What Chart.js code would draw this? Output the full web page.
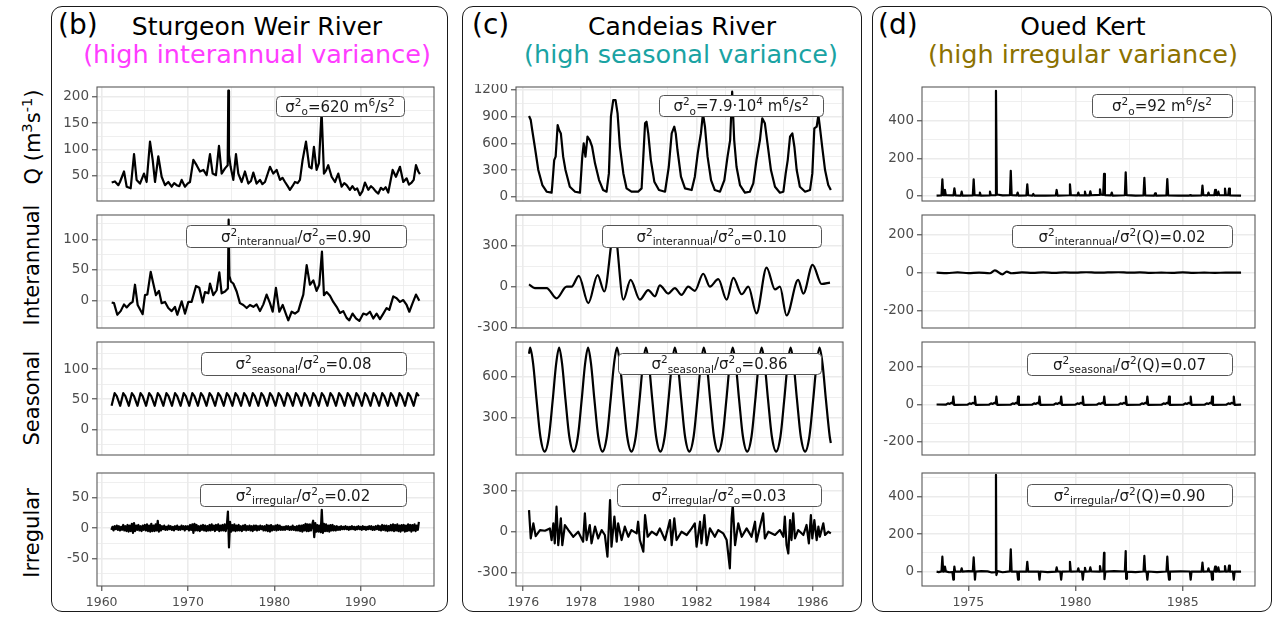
<!DOCTYPE html>
<html>
<head>
<meta charset="utf-8">
<script src="https://cdn.jsdelivr.net/npm/chart.js@4.4.0/dist/chart.umd.min.js"></script>
<style>
  body { margin: 0; width: 1276px; height: 619px; background: #fff; position: relative; overflow: hidden;
         font-family: "DejaVu Sans", sans-serif; color: #000; }
  .frame { position: absolute; border: 1.6px solid #1a1a1a; border-radius: 11px; box-sizing: border-box; }
  .t { position: absolute; white-space: nowrap; line-height: 1; }
  .tag { font-size: 28px; }
  .title { font-size: 25px; transform: translateX(-50%); }
  .sub { font-size: 25.5px; transform: translateX(-50%); }
  .row { font-size: 21px; transform: translate(-50%, -50%) rotate(-90deg); }
  .row sup { font-size: 0.7em; }
  canvas { position: absolute; }
</style>
</head>
<body>
<div class="frame" style="left:51px;top:6px;width:397px;height:606px"></div>
<div class="frame" style="left:462px;top:6px;width:400px;height:606px"></div>
<div class="frame" style="left:872px;top:6px;width:400px;height:606px"></div>

<div class="t tag" style="left:58px;top:11px">(b)</div>
<div class="t title" style="left:257px;top:14px">Sturgeon Weir River</div>
<div class="t sub" style="left:257px;top:42px;color:#ff3dff">(high interannual variance)</div>

<div class="t tag" style="left:472px;top:11px">(c)</div>
<div class="t title" style="left:682px;top:14px">Candeias River</div>
<div class="t sub" style="left:681px;top:42px;color:#1aa3a3">(high seasonal variance)</div>

<div class="t tag" style="left:878px;top:11px">(d)</div>
<div class="t title" style="left:1083px;top:14px">Oued Kert</div>
<div class="t sub" style="left:1083px;top:42px;color:#8c7100">(high irregular variance)</div>

<div class="t row" style="left:32px;top:137px">Q (m<sup>3</sup>s<sup>-1</sup>)</div>
<div class="t row" style="left:32px;top:265px">Interannual</div>
<div class="t row" style="left:32px;top:398px">Seasonal</div>
<div class="t row" style="left:32px;top:533px">Irregular</div>

<script>
// ---- Sturgeon Weir River: [decimal year, value] ----
const sturgeonQ = [[1961.16,37],[1961.54,39],[1961.93,32],[1962.12,38],[1962.59,58],[1962.9,29],[1963.36,26],[1963.75,91],[1964.05,42],[1964.44,35],[1964.9,54],[1965.21,38],[1965.6,115],[1965.91,80],[1966.18,38],[1966.56,87],[1966.95,48],[1967.34,32],[1967.72,38],[1968.11,29],[1968.4,36],[1968.69,32],[1969.0,30],[1969.27,42],[1969.65,29],[1969.95,35],[1970.23,38],[1970.62,80],[1971.0,70],[1971.39,58],[1971.78,61],[1972.16,51],[1972.55,91],[1972.86,54],[1973.24,51],[1973.59,107],[1973.9,54],[1974.29,64],[1974.6,70],[1974.67,212],[1974.75,90],[1974.94,67],[1975.25,42],[1975.56,91],[1975.83,54],[1976.22,38],[1976.6,58],[1976.99,35],[1977.3,40],[1977.57,56],[1977.95,35],[1978.34,42],[1978.62,34],[1978.92,38],[1979.5,67],[1979.88,54],[1980.27,61],[1980.66,42],[1980.95,46],[1981.24,38],[1981.55,30],[1981.81,23],[1982.1,30],[1982.39,38],[1982.7,36],[1982.97,42],[1983.28,80],[1983.67,115],[1984.05,67],[1984.32,64],[1984.59,105],[1984.9,61],[1985.17,74],[1985.48,172],[1985.75,54],[1986.0,60],[1986.25,70],[1986.64,48],[1987.03,38],[1987.41,54],[1987.8,29],[1988.1,36],[1988.38,32],[1988.76,23],[1989.05,30],[1989.34,23],[1989.6,26],[1989.92,13],[1990.2,20],[1990.5,37],[1990.89,23],[1991.2,30],[1991.47,26],[1991.75,20],[1992.05,16],[1992.35,27],[1992.63,23],[1992.9,28],[1993.2,18],[1993.71,61],[1994.09,48],[1994.56,67],[1994.94,38],[1995.33,45],[1995.6,33],[1995.91,37],[1996.15,42],[1996.41,70],[1996.68,58],[1996.87,53]];
const sturgeonInterannual = [[1961.16,-3],[1961.43,-4],[1961.81,-23],[1962.2,-17],[1962.59,-6],[1962.9,-11],[1963.28,-5],[1963.59,-2],[1963.86,26],[1964.17,-7],[1964.75,-22],[1965.02,9],[1965.29,10],[1965.68,47],[1965.98,28],[1966.29,9],[1966.64,16],[1966.95,-4],[1967.34,-2],[1967.72,-12],[1968.11,-17],[1968.49,-10],[1968.76,-23],[1969.27,-1],[1969.65,-21],[1970.04,-2],[1970.42,-2],[1970.93,24],[1971.31,21],[1971.7,-3],[1971.97,14],[1972.36,12],[1972.55,28],[1972.93,9],[1973.32,17],[1973.63,46],[1973.9,12],[1974.29,15],[1974.62,20],[1974.71,132],[1974.8,40],[1974.98,31],[1975.25,28],[1975.64,15],[1976.02,-4],[1976.41,-7],[1976.8,-12],[1977.18,-7],[1977.57,-10],[1977.95,-6],[1978.34,-17],[1978.73,-6],[1979.11,10],[1979.5,-4],[1979.81,-18],[1980.19,21],[1980.58,-18],[1980.97,-7],[1981.35,-22],[1981.62,-32],[1982.01,-18],[1982.39,-21],[1982.78,-17],[1983.09,-2],[1983.36,10],[1983.75,58],[1984.13,26],[1984.52,33],[1984.9,16],[1985.21,26],[1985.52,80],[1985.75,9],[1986.06,14],[1986.45,8],[1986.83,-2],[1987.22,-10],[1987.61,-20],[1987.99,-17],[1988.38,-28],[1988.69,-32],[1989.07,-21],[1989.46,-29],[1989.85,-33],[1990.31,-21],[1990.69,-23],[1991.08,-18],[1991.47,-29],[1991.85,-21],[1992.24,-30],[1992.63,-21],[1993.01,-12],[1993.32,-15],[1993.78,7],[1994.17,4],[1994.56,-2],[1994.94,1],[1995.33,-7],[1995.64,-18],[1996.02,-4],[1996.41,10],[1996.8,0]];
const sturgeonSeasonal = [
  [1961.15,39],[1961.5,60],[1961.75,55],[1962.15,39],[1962.5,60],[1962.75,55],
  [1963.15,39],[1963.5,60],[1963.75,55],[1964.15,39],[1964.5,60],[1964.75,55],
  [1965.15,39],[1965.5,60],[1965.75,55],[1966.15,39],[1966.5,60],[1966.75,55],
  [1967.15,39],[1967.5,60],[1967.75,55],[1968.15,39],[1968.5,60],[1968.75,55],
  [1969.15,39],[1969.5,60],[1969.75,55],[1970.15,39],[1970.5,60],[1970.75,55],
  [1971.15,39],[1971.5,60],[1971.75,55],[1972.15,39],[1972.5,60],[1972.75,55],
  [1973.15,39],[1973.5,60],[1973.75,55],[1974.15,39],[1974.5,60],[1974.75,55],
  [1975.15,39],[1975.5,60],[1975.75,55],[1976.15,39],[1976.5,60],[1976.75,55],
  [1977.15,39],[1977.5,60],[1977.75,55],[1978.15,39],[1978.5,60],[1978.75,55],
  [1979.15,39],[1979.5,60],[1979.75,55],[1980.15,39],[1980.5,60],[1980.75,55],
  [1981.15,39],[1981.5,60],[1981.75,55],[1982.15,39],[1982.5,60],[1982.75,55],
  [1983.15,39],[1983.5,60],[1983.75,55],[1984.15,39],[1984.5,60],[1984.75,55],
  [1985.15,39],[1985.5,60],[1985.75,55],[1986.15,39],[1986.5,60],[1986.75,55],
  [1987.15,39],[1987.5,60],[1987.75,55],[1988.15,39],[1988.5,60],[1988.75,55],
  [1989.15,39],[1989.5,60],[1989.75,55],[1990.15,39],[1990.5,60],[1990.75,55],
  [1991.15,39],[1991.5,60],[1991.75,55],[1992.15,39],[1992.5,60],[1992.75,55],
  [1993.15,39],[1993.5,60],[1993.75,55],[1994.15,39],[1994.5,60],[1994.75,55],
  [1995.15,39],[1995.5,60],[1995.75,55],[1996.15,39],[1996.5,60],[1996.75,55]];
// irregular part sampled every 1/8 year from 1961.125 (one row per calendar year)
const sturgeonIrregularStart = 1961.125;
const sturgeonIrregularStep = 0.125;
const sturgeonIrregularValues = [
  -3, 2, -4, 3, -2, 4, -3,
  3, -4, 2, -3, 5, -4, 3, -5,
  5, -6, 4, -5, 7, -8, 8, -5,
  4, -3, 5, -4, 3, -5, 4, -3,
  5, -4, 6, -5, 4, -6, 7, -5,
  4, -5, 6, -4, 12, -6, 5, -4,
  3, -2, 4, -3, 2, -3, 4, -2,
  3, -3, 2, -4, 3, -2, 4, -3,
  2, -3, 4, -2, 3, -4, 3, -2,
  3, -4, 5, -3, 6, -8, 7, -4,
  5, -4, 3, -5, 4, -3, 5, -4,
  4, -5, 3, -4, 5, -4, 6, -3,
  4, -5, 5, -3, 6, -5, 4, -4,
  5, -4, 6, -5, 4, 27, -32, 10,
  -6, 5, -4, 6, -5, 4, -4, 5,
  -4, 3, -5, 4, -3, 5, -4, 3,
  -3, 4, -4, 3, -5, 4, -3, 4,
  -4, 3, -3, 4, -2, 3, -4, 3,
  -4, 5, -5, 4, -6, 5, -4, 3,
  -3, 4, -4, 5, -3, 4, -3, 2,
  -3, 2, -3, 3, -2, 3, -3, 2,
  -3, 4, -3, 2, -4, 3, -4, 4,
  -5, 4, -6, 5, -4, 7, -5, 6,
  -5, 6, -4, 5, 12, -15, 8, -6,
  5, -6, 4, -7, 30, -8, 7, -5,
  6, -5, 4, -6, 5, -4, 5, -4,
  3, -4, 3, -3, 2, -3, 3, -2,
  2, -2, 3, -2, 2, -3, 2, -2,
  3, -2, 2, -3, 2, -2, 3, -2,
  2, -3, 3, -2, 2, -3, 2, -2,
  3, -2, 3, -3, 2, -3, 3, -2,
  4, -3, 3, -4, 5, -3, 4, -4,
  4, -5, 3, -4, 5, -4, 6, -5,
  5, -4, 6, -5, 4, -6, 5, -4,
  5, -6, 4, -5, 6, -4, 5, -6,
  5, -4, 6, -5, 4, -3, 10];

// ---- Candeias River ----
const candeiasQ = [[1976.2,907],[1976.26,862],[1976.31,750],[1976.4,562],[1976.52,300],[1976.66,131],[1976.81,56],[1976.98,45],[1977.0,112],[1977.07,412],[1977.12,450],[1977.19,806],[1977.24,750],[1977.3,712],[1977.38,450],[1977.46,300],[1977.61,112],[1977.79,56],[1977.96,45],[1978.04,450],[1978.09,600],[1978.15,450],[1978.22,675],[1978.3,637],[1978.38,562],[1978.48,375],[1978.62,187],[1978.76,75],[1978.88,56],[1978.96,262],[1979.03,900],[1979.11,1087],[1979.19,1087],[1979.26,937],[1979.34,562],[1979.46,262],[1979.57,94],[1979.74,56],[1979.97,56],[1980.09,94],[1980.15,450],[1980.21,825],[1980.26,843],[1980.32,712],[1980.41,412],[1980.53,169],[1980.69,75],[1980.9,56],[1981.03,337],[1981.13,712],[1981.22,787],[1981.27,712],[1981.33,525],[1981.45,225],[1981.59,94],[1981.82,75],[1981.93,225],[1982.03,487],[1982.14,712],[1982.21,937],[1982.28,787],[1982.37,450],[1982.49,187],[1982.62,75],[1982.8,56],[1982.95,187],[1983.06,450],[1983.15,637],[1983.22,1181],[1983.29,637],[1983.37,337],[1983.49,131],[1983.66,45],[1983.83,56],[1983.95,150],[1984.06,412],[1984.18,637],[1984.26,881],[1984.35,825],[1984.44,600],[1984.56,300],[1984.7,112],[1984.87,45],[1984.99,56],[1985.07,262],[1985.14,412],[1985.22,675],[1985.3,712],[1985.37,562],[1985.45,300],[1985.56,112],[1985.74,56],[1985.91,75],[1985.99,262],[1986.06,768],[1986.14,787],[1986.2,918],[1986.25,787],[1986.33,562],[1986.43,300],[1986.54,131],[1986.63,75]];
const candeiasInterannual = [[1976.2,17],[1976.4,-10],[1976.81,-10],[1977.15,-85],[1977.5,0],[1977.67,0],[1977.92,80],[1978.25,-120],[1978.57,85],[1978.8,-35],[1979.15,420],[1979.46,-95],[1979.71,50],[1980.03,-95],[1980.32,-25],[1980.55,-70],[1980.72,10],[1981.01,-50],[1981.24,-10],[1981.47,-60],[1981.7,0],[1981.93,-30],[1982.22,95],[1982.45,0],[1982.74,55],[1983.03,-95],[1983.26,65],[1983.55,-55],[1983.78,0],[1984.06,-195],[1984.41,140],[1984.7,-20],[1984.87,0],[1985.1,-210],[1985.5,50],[1985.68,-50],[1986.0,160],[1986.31,20],[1986.6,30]];
const candeiasSeasonal = [
  [1976.2,770],[1976.24,815],[1976.34,700],[1976.46,430],[1976.59,160],[1976.74,47],[1976.89,160],[1977.02,430],[1977.14,700],
  [1977.24,815],[1977.34,700],[1977.46,430],[1977.59,160],[1977.74,47],[1977.89,160],[1978.02,430],[1978.14,700],
  [1978.24,815],[1978.34,700],[1978.46,430],[1978.59,160],[1978.74,47],[1978.89,160],[1979.02,430],[1979.14,700],
  [1979.24,815],[1979.34,700],[1979.46,430],[1979.59,160],[1979.74,47],[1979.89,160],[1980.02,430],[1980.14,700],
  [1980.24,815],[1980.34,700],[1980.46,430],[1980.59,160],[1980.74,47],[1980.89,160],[1981.02,430],[1981.14,700],
  [1981.24,815],[1981.34,700],[1981.46,430],[1981.59,160],[1981.74,47],[1981.89,160],[1982.02,430],[1982.14,700],
  [1982.24,815],[1982.34,700],[1982.46,430],[1982.59,160],[1982.74,47],[1982.89,160],[1983.02,430],[1983.14,700],
  [1983.24,815],[1983.34,700],[1983.46,430],[1983.59,160],[1983.74,47],[1983.89,160],[1984.02,430],[1984.14,700],
  [1984.24,815],[1984.34,700],[1984.46,430],[1984.59,160],[1984.74,47],[1984.89,160],[1985.02,430],[1985.14,700],
  [1985.24,815],[1985.34,700],[1985.46,430],[1985.59,160],[1985.74,47],[1985.89,160],[1986.02,430],[1986.14,700],
  [1986.24,815],[1986.34,700],[1986.46,430],[1986.59,160],[1986.63,110]];
const candeiasIrregular = [[1976.2,158],[1976.26,-49],[1976.35,61],[1976.43,-32],[1976.58,12],[1976.75,7],[1976.92,24],[1976.98,-61],[1977.04,61],[1977.09,-85],[1977.15,183],[1977.21,-98],[1977.3,98],[1977.35,-98],[1977.44,49],[1977.56,12],[1977.73,-37],[1977.9,0],[1978.07,-73],[1978.13,134],[1978.19,-61],[1978.3,49],[1978.36,-85],[1978.48,37],[1978.59,-49],[1978.71,12],[1978.82,-24],[1978.91,-183],[1979.0,232],[1979.05,-110],[1979.15,110],[1979.23,-73],[1979.28,61],[1979.4,-61],[1979.51,37],[1979.63,-37],[1979.74,12],[1979.92,-12],[1979.97,73],[1980.03,-61],[1980.15,-146],[1980.21,122],[1980.3,-37],[1980.44,0],[1980.61,-24],[1980.72,24],[1980.9,-61],[1981.07,85],[1981.13,-98],[1981.22,98],[1981.3,-61],[1981.47,0],[1981.65,-24],[1981.82,24],[1981.93,61],[1981.99,-110],[1982.11,73],[1982.16,-85],[1982.26,122],[1982.34,-98],[1982.45,24],[1982.62,-37],[1982.74,12],[1982.91,-12],[1983.03,-61],[1983.14,-268],[1983.2,98],[1983.24,195],[1983.32,-98],[1983.43,61],[1983.55,-37],[1983.72,24],[1983.89,-37],[1984.01,73],[1984.06,-73],[1984.18,37],[1984.29,134],[1984.35,-49],[1984.47,0],[1984.7,-24],[1984.87,12],[1984.99,-37],[1985.04,110],[1985.1,-98],[1985.16,-159],[1985.22,85],[1985.27,-61],[1985.33,134],[1985.39,-49],[1985.5,12],[1985.68,-24],[1985.79,49],[1985.87,-85],[1985.94,122],[1985.99,-49],[1986.06,85],[1986.14,-61],[1986.2,37],[1986.25,-37],[1986.37,61],[1986.43,-24],[1986.54,0],[1986.63,-12]];

// ---- Oued Kert ----
const kertQ = [[1973.52,2],[1973.75,3],[1973.79,88],[1973.83,5],[1973.87,4],[1973.91,32],[1973.95,4],[1974.31,3],[1974.35,41],[1974.4,3],[1974.65,2],[1974.69,23],[1974.73,2],[1975.21,3],[1975.25,88],[1975.29,4],[1975.5,3],[1975.54,18],[1975.58,2],[1975.97,3],[1976.01,23],[1976.05,4],[1976.25,5],[1976.29,559],[1976.33,8],[1976.6,3],[1976.94,4],[1976.98,134],[1977.02,5],[1977.26,3],[1977.3,18],[1977.34,2],[1977.71,3],[1977.75,62],[1977.79,4],[1977.99,2],[1978.03,11],[1978.07,2],[1978.6,2],[1979.08,3],[1979.12,32],[1979.16,2],[1979.7,4],[1979.74,62],[1979.78,5],[1980.09,3],[1980.13,18],[1980.17,3],[1980.4,3],[1980.44,23],[1980.48,4],[1980.65,3],[1980.69,25],[1980.73,4],[1981.1,6],[1981.14,35],[1981.18,8],[1981.29,6],[1981.33,117],[1981.37,5],[1981.65,3],[1981.69,18],[1981.73,2],[1982.3,4],[1982.34,126],[1982.38,5],[1982.8,2],[1983.17,3],[1983.21,97],[1983.25,3],[1983.67,2],[1983.71,14],[1983.75,2],[1984.24,3],[1984.28,90],[1984.32,3],[1984.8,2],[1985.3,2],[1985.34,5],[1985.38,2],[1985.88,3],[1985.92,55],[1985.96,4],[1986.16,3],[1986.2,18],[1986.24,5],[1986.47,4],[1986.51,32],[1986.55,6],[1986.62,5],[1986.66,23],[1986.7,5],[1986.93,4],[1986.97,39],[1987.01,5],[1987.12,4],[1987.16,39],[1987.2,3],[1987.72,2]];
const kertInterannual = [[1973.52,0],[1974.0,-2],[1974.5,1],[1975.0,-2],[1975.5,0],[1976.0,-3],[1976.24,12],[1976.59,-9],[1976.79,5],[1977.02,-3],[1977.5,1],[1978.0,-1],[1978.5,1],[1979.0,-1],[1979.5,1],[1980.0,0],[1980.5,2],[1981.0,0],[1981.5,1],[1982.0,2],[1982.5,0],[1983.0,1],[1983.5,-1],[1984.0,0],[1984.5,-1],[1985.0,1],[1985.5,-1],[1986.0,0],[1986.5,-1],[1987.0,0],[1987.72,0]];
const kertSeasonal = [[1973.52,0],
  [1973.95,-1],[1974.05,6],[1974.13,3],[1974.2,9],[1974.27,5],[1974.3,42],[1974.34,-2],
  [1974.96,-1],[1975.06,6],[1975.14,3],[1975.21,9],[1975.28,5],[1975.31,42],[1975.35,-2],
  [1975.96,-1],[1976.06,6],[1976.14,3],[1976.21,9],[1976.28,5],[1976.31,42],[1976.35,-2],
  [1976.97,-1],[1977.07,6],[1977.15,3],[1977.22,9],[1977.29,5],[1977.32,42],[1977.36,-2],
  [1977.97,-1],[1978.07,6],[1978.15,3],[1978.22,9],[1978.29,5],[1978.32,42],[1978.36,-2],
  [1978.98,-1],[1979.08,6],[1979.16,3],[1979.23,9],[1979.3,5],[1979.33,42],[1979.37,-2],
  [1979.99,-1],[1980.09,6],[1980.17,3],[1980.24,9],[1980.31,5],[1980.34,42],[1980.38,-2],
  [1980.99,-1],[1981.09,6],[1981.17,3],[1981.24,9],[1981.31,5],[1981.34,42],[1981.38,-2],
  [1982.0,-1],[1982.1,6],[1982.18,3],[1982.25,9],[1982.32,5],[1982.35,42],[1982.39,-2],
  [1983.0,-1],[1983.1,6],[1983.18,3],[1983.25,9],[1983.32,5],[1983.35,42],[1983.39,-2],
  [1984.01,-1],[1984.11,6],[1984.19,3],[1984.26,9],[1984.33,5],[1984.36,42],[1984.4,-2],
  [1985.02,-1],[1985.12,6],[1985.2,3],[1985.27,9],[1985.34,5],[1985.37,42],[1985.41,-2],
  [1986.02,-1],[1986.12,6],[1986.2,3],[1986.27,9],[1986.34,5],[1986.37,42],[1986.41,-2],
  [1987.03,-1],[1987.13,6],[1987.21,3],[1987.28,9],[1987.35,5],[1987.38,42],[1987.42,-2],
  [1987.72,-1]];
const kertIrregular = [[1973.52,0],[1973.62,-2],[1973.75,2],[1973.79,80],[1973.83,0],[1973.87,2],[1973.91,27],[1973.95,2],[1974.1,-3],[1974.26,-2],[1974.3,-42],[1974.33,0],[1974.35,27],[1974.38,1],[1974.65,0],[1974.69,18],[1974.73,0],[1975.0,3],[1975.21,2],[1975.25,76],[1975.29,-5],[1975.31,-42],[1975.34,0],[1975.6,3],[1975.9,2],[1976.1,-4],[1976.25,-2],[1976.29,516],[1976.31,-18],[1976.36,3],[1976.6,-3],[1976.94,2],[1976.98,119],[1977.02,0],[1977.28,1],[1977.32,-42],[1977.36,1],[1977.71,0],[1977.75,53],[1977.79,0],[1978.28,1],[1978.32,-42],[1978.36,1],[1978.7,-2],[1979.08,0],[1979.12,23],[1979.16,1],[1979.29,0],[1979.33,-42],[1979.37,0],[1979.7,1],[1979.74,53],[1979.78,0],[1980.09,1],[1980.13,18],[1980.17,0],[1980.3,1],[1980.34,-42],[1980.38,1],[1980.4,0],[1980.44,21],[1980.48,0],[1980.65,1],[1980.69,23],[1980.73,2],[1981.1,0],[1981.14,30],[1981.18,2],[1981.29,1],[1981.33,101],[1981.35,-40],[1981.39,0],[1981.8,3],[1982.3,1],[1982.34,110],[1982.36,-38],[1982.4,0],[1982.8,-2],[1983.17,1],[1983.21,84],[1983.25,0],[1983.31,1],[1983.35,-42],[1983.39,1],[1983.8,-2],[1984.24,1],[1984.28,80],[1984.32,0],[1984.36,-42],[1984.4,0],[1984.9,2],[1985.33,1],[1985.37,-42],[1985.41,1],[1985.88,0],[1985.92,48],[1985.96,0],[1986.16,1],[1986.2,18],[1986.24,0],[1986.33,1],[1986.37,-42],[1986.41,0],[1986.47,1],[1986.51,27],[1986.55,0],[1986.62,1],[1986.66,23],[1986.7,0],[1986.93,1],[1986.97,30],[1987.01,0],[1987.12,1],[1987.16,32],[1987.2,0],[1987.34,1],[1987.38,-42],[1987.42,0],[1987.72,0]];

// ---- axis ticks ----
const sturgeonYearTicks = [1960, 1970, 1980, 1990];
const sturgeonYearMinor = [1965, 1975, 1985, 1995];
const candeiasYearTicks = [1976, 1978, 1980, 1982, 1984, 1986];
const candeiasYearMinor = [1977, 1979, 1981, 1983, 1985, 1987];
const kertYearTicks = [1975, 1980, 1985];
const kertYearMinor = [1977.5, 1982.5, 1987.5];

// ---- variance labels ----
const sturgeonLabels = ['σ^{2}_{o}=620 m^{6}/s^{2}', 'σ^{2}_{interannual}/σ^{2}_{o}=0.90',
  'σ^{2}_{seasonal}/σ^{2}_{o}=0.08', 'σ^{2}_{irregular}/σ^{2}_{o}=0.02'];
const candeiasLabels = ['σ^{2}_{o}=7.9·10^{4} m^{6}/s^{2}', 'σ^{2}_{interannual}/σ^{2}_{o}=0.10',
  'σ^{2}_{seasonal}/σ^{2}_{o}=0.86', 'σ^{2}_{irregular}/σ^{2}_{o}=0.03'];
const kertLabels = ['σ^{2}_{o}=92 m^{6}/s^{2}', 'σ^{2}_{interannual}/σ^{2}(Q)=0.02',
  'σ^{2}_{seasonal}/σ^{2}(Q)=0.07', 'σ^{2}_{irregular}/σ^{2}(Q)=0.90'];

const sturgeonIrregular = sturgeonIrregularValues.map((v, i) =>
  [sturgeonIrregularStart + i * sturgeonIrregularStep, v]);

const FONT = '"DejaVu Sans", sans-serif';
const AXW = 48, PAD = 3, XH = 26;
const ROWS = [[87, 201], [215, 328], [342, 455], [473, 586]];

// split "a^{b}_{c}" markup into normal / superscript / subscript runs
function parseRich(s) {
  const out = [];
  const re = /\^\{([^}]*)\}|_\{([^}]*)\}|([^\^_]+)/g;
  let m;
  while ((m = re.exec(s))) {
    if (m[1] !== undefined) out.push({ t: m[1], k: 'sup' });
    else if (m[2] !== undefined) out.push({ t: m[2], k: 'sub' });
    else out.push({ t: m[3], k: 'n' });
  }
  return out;
}

const panelFrame = {
  id: 'panelFrame',
  afterDraw(chart, args, o) {
    const { ctx, chartArea: a } = chart;
    ctx.save();
    ctx.strokeStyle = '#595959';
    ctx.lineWidth = 1.1;
    ctx.strokeRect(a.left, a.top, a.right - a.left, a.bottom - a.top);

    const [bl, bt, br, bb] = o.box;
    const x = bl - o.ox, y = bt - o.oy, w = br - bl, h = bb - bt;
    ctx.beginPath();
    ctx.roundRect(x + 0.5, y + 0.5, w, h, 4);
    ctx.fillStyle = '#fff';
    ctx.fill();
    ctx.strokeStyle = '#555';
    ctx.lineWidth = 1;
    ctx.stroke();

    const segs = parseRich(o.text);
    const fontOf = k => (k === 'n' ? '15px ' : '10.5px ') + FONT;
    let total = 0;
    segs.forEach(s => { ctx.font = fontOf(s.k); s.w = ctx.measureText(s.t).width; total += s.w; });
    let tx = x + w / 2 - total / 2;
    const base = y + h / 2 + 5.5;
    ctx.fillStyle = '#1a1a1a';
    ctx.textBaseline = 'alphabetic';
    segs.forEach(s => {
      ctx.font = fontOf(s.k);
      const dy = s.k === 'sup' ? -6 : s.k === 'sub' ? 3.5 : 0;
      ctx.fillText(s.t, tx, base + dy);
      tx += s.w;
    });
    ctx.restore();
  }
};

function scale(range, major, minor, labels, horizontal) {
  const all = major.concat(minor).sort((a, b) => a - b);
  const isMajor = v => major.includes(v);
  return {
    type: 'linear', min: range[0], max: range[1],
    afterBuildTicks: s => { s.ticks = all.map(v => ({ value: v })); },
    afterFit: s => {
      if (horizontal) { s.height = labels ? XH : 0; s.paddingLeft = 0; s.paddingRight = 0; }
      else { s.width = AXW; s.paddingTop = 0; s.paddingBottom = 0; }
    },
    ticks: {
      display: labels, autoSkip: false, maxRotation: 0, padding: horizontal ? 4 : 3,
      color: '#4d4d4d', font: { family: FONT, size: horizontal ? 12.5 : 13.5 },
      callback: v => isMajor(v) ? String(v) : ''
    },
    grid: {
      color: '#ebebeb',
      lineWidth: c => (c.tick && isMajor(c.tick.value)) ? 1.6 : 0.8,
      drawTicks: labels, tickLength: 5, tickWidth: 1,
      tickColor: c => (c.tick && isMajor(c.tick.value)) ? '#333' : 'rgba(0,0,0,0)'
    },
    border: { display: false }
  };
}

function makePanel(col, i) {
  const row = col.rows[i];
  const [top, bottom] = ROWS[i];
  const showX = i === 3;
  const cv = document.createElement('canvas');
  const ox = col.l - AXW, oy = top - PAD;
  cv.width = AXW + (col.r - col.l) + PAD;
  cv.height = PAD + (bottom - top) + (showX ? XH : PAD);
  cv.style.left = ox + 'px';
  cv.style.top = oy + 'px';
  document.body.appendChild(cv);

  new Chart(cv, {
    type: 'line',
    data: {
      datasets: [{
        data: row.data.map(p => ({ x: p[0], y: p[1] })),
        borderColor: '#000', borderWidth: 2.2, pointRadius: 0, fill: false,
        borderJoinStyle: 'round',
        tension: row.smooth ? 0.4 : 0,
        cubicInterpolationMode: row.smooth ? 'monotone' : 'default'
      }]
    },
    options: {
      animation: false, responsive: false, devicePixelRatio: 1, events: [],
      layout: { padding: { left: 0, top: PAD, right: PAD, bottom: showX ? 0 : PAD } },
      plugins: {
        legend: { display: false }, tooltip: { enabled: false },
        panelFrame: { box: row.box, text: row.text, ox, oy }
      },
      scales: {
        x: scale(col.xr, col.xMajor, col.xMinor, showX, true),
        y: scale(row.yr, row.major, row.minor, true, false)
      }
    },
    plugins: [panelFrame]
  });
}

const columns = [
  {
    l: 97, r: 434, xr: [1959.46, 1998.5], xMajor: sturgeonYearTicks, xMinor: sturgeonYearMinor,
    rows: [
      { data: sturgeonQ, yr: [1.8, 219], major: [50, 100, 150, 200], minor: [25, 75, 125, 175],
        box: [276, 96, 404, 116], text: sturgeonLabels[0] },
      { data: sturgeonInterannual, yr: [-44.5, 139.6], major: [0, 50, 100], minor: [-25, 25, 75, 125],
        box: [186, 225, 406, 247], text: sturgeonLabels[1] },
      { data: sturgeonSeasonal, yr: [-42.6, 144.8], major: [0, 50, 100], minor: [-25, 25, 75, 125],
        box: [201, 352, 406, 375], text: sturgeonLabels[2] },
      { data: sturgeonIrregular, yr: [-95.7, 90.8], major: [-50, 0, 50], minor: [-75, -25, 25, 75],
        box: [200, 484, 406, 506], text: sturgeonLabels[3] }
    ]
  },
  {
    l: 516, r: 843, xr: [1975.75, 1987.05], xMajor: candeiasYearTicks, xMinor: candeiasYearMinor,
    rows: [
      { data: candeiasQ, yr: [-48.4, 1233.7], major: [0, 300, 600, 900, 1200], minor: [150, 450, 750, 1050],
        box: [659, 95, 823, 116], text: candeiasLabels[0] },
      { data: candeiasInterannual, yr: [-302, 524.6], major: [-300, 0, 300], minor: [-150, 150, 450],
        box: [602, 225, 821, 247], text: candeiasLabels[1], smooth: true },
      { data: candeiasSeasonal, yr: [21.4, 856.5], major: [300, 600], minor: [150, 450, 750],
        box: [618, 353, 821, 374], text: candeiasLabels[2], smooth: true },
      { data: candeiasIrregular, yr: [-397.3, 429.5], major: [-300, 0, 300], minor: [-150, 150],
        box: [617, 484, 821, 506], text: candeiasLabels[3] }
    ]
  },
  {
    l: 922, r: 1255, xr: [1972.84, 1988.37], xMajor: kertYearTicks, xMinor: kertYearMinor,
    rows: [
      { data: kertQ, yr: [-26.6, 579], major: [0, 200, 400], minor: [100, 300, 500],
        box: [1092, 94, 1232, 117], text: kertLabels[0] },
      { data: kertInterannual, yr: [-288.7, 300.7], major: [-200, 0, 200], minor: [-100, 100],
        box: [1012, 225, 1232, 247], text: kertLabels[1], smooth: true },
      { data: kertSeasonal, yr: [-271.5, 336], major: [-200, 0, 200], minor: [-100, 100],
        box: [1027, 353, 1232, 375], text: kertLabels[2] },
      { data: kertIrregular, yr: [-76.3, 526.4], major: [0, 200, 400], minor: [100, 300, 500],
        box: [1027, 484, 1232, 506], text: kertLabels[3] }
    ]
  }
];

columns.forEach(col => col.rows.forEach((row, i) => makePanel(col, i)));
</script>
</body>
</html>
